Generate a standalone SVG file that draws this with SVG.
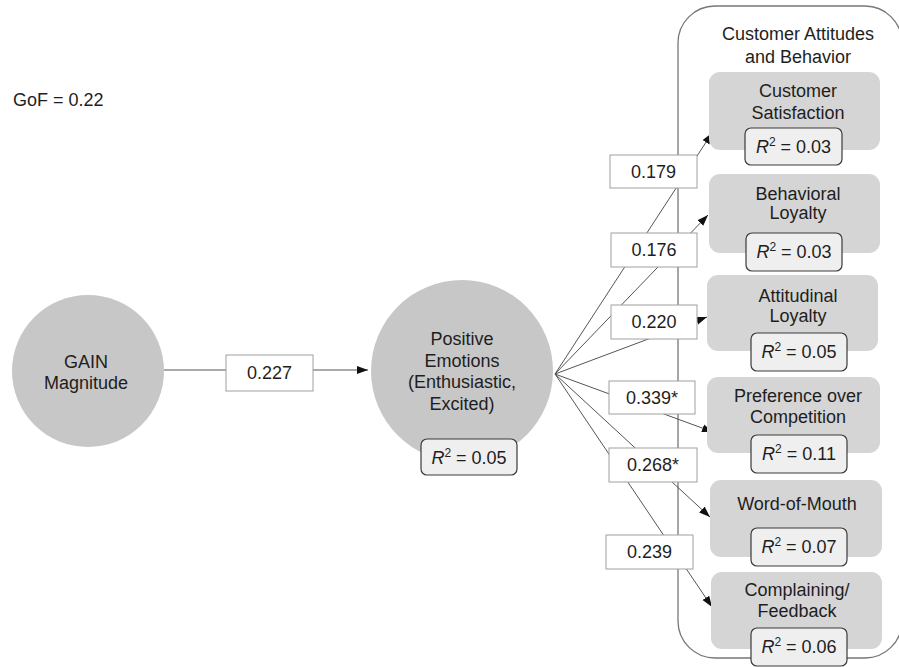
<svg xmlns="http://www.w3.org/2000/svg" width="899" height="667" viewBox="0 0 899 667">
  <style>
    text { font-family: "Liberation Sans", Arial, sans-serif; font-size: 18px; fill: #1e1e1e; text-anchor: middle; }
    .latent { fill: #c7c7c7; stroke: none; }
    .outcome { fill: #d5d5d5; stroke: none; }
    .r2 { fill: #efefef; stroke: #3a3a3a; stroke-width: 1.2; }
    .coef { fill: #ffffff; stroke: #a0a0a0; stroke-width: 1; }
    .path { stroke: #555555; stroke-width: 1; fill: none; marker-end: url(#arrow); }
    .frame { fill: #ffffff; stroke: #777777; stroke-width: 1.3; }
    .it { font-style: italic; }
  </style>
  <defs>
    <marker id="arrow" markerUnits="userSpaceOnUse" markerWidth="12" markerHeight="10" viewBox="0 0 12 10" refX="11" refY="5" orient="auto">
      <path d="M0,1 L11,5 L0,9 Z" fill="#111111"/>
    </marker>
  </defs>

  <rect width="899" height="667" fill="#ffffff"/>

  <text x="13" y="106" style="text-anchor:start">GoF = 0.22</text>

  <!-- outcome panel frame -->
  <g id="panel">
    <rect class="frame" x="678" y="6" width="224" height="652" rx="37" ry="37"/>
    <text x="798" y="40">Customer Attitudes</text>
    <text x="798" y="63">and Behavior</text>
  </g>

  <!-- structural paths -->
  <g id="connectors">
    <line class="path" x1="164" y1="370" x2="368" y2="370"/>
    <line class="path" x1="555" y1="374" x2="712" y2="133"/>
    <line class="path" x1="555" y1="374" x2="708" y2="215"/>
    <line class="path" x1="555" y1="374" x2="707" y2="317"/>
    <line class="path" x1="555" y1="374" x2="713" y2="432"/>
    <line class="path" x1="555" y1="374" x2="710" y2="517"/>
    <line class="path" x1="555" y1="374" x2="712" y2="607"/>
  </g>

  <!-- path coefficients -->
  <g id="coefficients">
    <rect class="coef" x="226" y="355" width="87" height="36"/>
    <text x="269.5" y="379">0.227</text>
    <rect class="coef" x="610" y="155" width="87" height="33"/>
    <text x="653.5" y="178">0.179</text>
    <rect class="coef" x="611" y="233" width="86" height="34"/>
    <text x="654" y="256">0.176</text>
    <rect class="coef" x="611" y="305" width="86" height="34"/>
    <text x="654" y="328">0.220</text>
    <rect class="coef" x="609" y="381" width="86" height="33"/>
    <text x="652" y="404">0.339*</text>
    <rect class="coef" x="609" y="448" width="88" height="34"/>
    <text x="653" y="471">0.268*</text>
    <rect class="coef" x="606" y="535" width="87" height="34"/>
    <text x="649.5" y="558">0.239</text>
  </g>

  <g id="gain">
    <circle class="latent" cx="88" cy="371" r="76"/>
    <text x="86" y="368">GAIN</text>
    <text x="86" y="389">Magnitude</text>
  </g>

  <g id="positive-emotions">
    <circle class="latent" cx="462" cy="371" r="91"/>
    <text x="462" y="345">Positive</text>
    <text x="462" y="367">Emotions</text>
    <text x="462" y="388">(Enthusiastic,</text>
    <text x="462" y="410">Excited)</text>
    <rect class="r2" x="421" y="439" width="96" height="36" rx="6"/>
    <text x="469" y="464"><tspan class="it">R</tspan><tspan dy="-7" font-size="12">2</tspan><tspan dy="7"> = 0.05</tspan></text>
  </g>

  <g id="satisfaction">
    <rect class="outcome" x="709" y="72" width="171" height="78" rx="11"/>
    <text x="798" y="97">Customer</text>
    <text x="798" y="119">Satisfaction</text>
    <rect class="r2" x="745" y="128" width="97" height="37" rx="6"/>
    <text x="793.5" y="153"><tspan class="it">R</tspan><tspan dy="-7" font-size="12">2</tspan><tspan dy="7"> = 0.03</tspan></text>
  </g>

  <g id="behavioral-loyalty">
    <rect class="outcome" x="709" y="174" width="171" height="79" rx="11"/>
    <text x="798" y="200">Behavioral</text>
    <text x="798" y="219">Loyalty</text>
    <rect class="r2" x="746" y="233" width="96" height="38" rx="6"/>
    <text x="794" y="258"><tspan class="it">R</tspan><tspan dy="-7" font-size="12">2</tspan><tspan dy="7"> = 0.03</tspan></text>
  </g>

  <g id="attitudinal-loyalty">
    <rect class="outcome" x="707" y="275" width="171" height="76" rx="11"/>
    <text x="798" y="302">Attitudinal</text>
    <text x="798" y="322">Loyalty</text>
    <rect class="r2" x="751" y="333" width="96" height="38" rx="6"/>
    <text x="799" y="358"><tspan class="it">R</tspan><tspan dy="-7" font-size="12">2</tspan><tspan dy="7"> = 0.05</tspan></text>
  </g>

  <g id="preference">
    <rect class="outcome" x="707" y="377" width="173" height="76" rx="11"/>
    <text x="798" y="402">Preference over</text>
    <text x="798" y="423">Competition</text>
    <rect class="r2" x="751" y="435" width="96" height="38" rx="6"/>
    <text x="799" y="460"><tspan class="it">R</tspan><tspan dy="-7" font-size="12">2</tspan><tspan dy="7"> = 0.11</tspan></text>
  </g>

  <g id="word-of-mouth">
    <rect class="outcome" x="710" y="480" width="172" height="77" rx="11"/>
    <text x="797" y="510">Word-of-Mouth</text>
    <rect class="r2" x="751" y="528" width="96" height="38" rx="6"/>
    <text x="799" y="553"><tspan class="it">R</tspan><tspan dy="-7" font-size="12">2</tspan><tspan dy="7"> = 0.07</tspan></text>
  </g>

  <g id="complaining">
    <rect class="outcome" x="711" y="572" width="171" height="77" rx="11"/>
    <text x="797" y="596">Complaining/</text>
    <text x="797" y="617">Feedback</text>
    <rect class="r2" x="751" y="628" width="96" height="38" rx="6"/>
    <text x="799" y="653"><tspan class="it">R</tspan><tspan dy="-7" font-size="12">2</tspan><tspan dy="7"> = 0.06</tspan></text>
  </g>
</svg>
